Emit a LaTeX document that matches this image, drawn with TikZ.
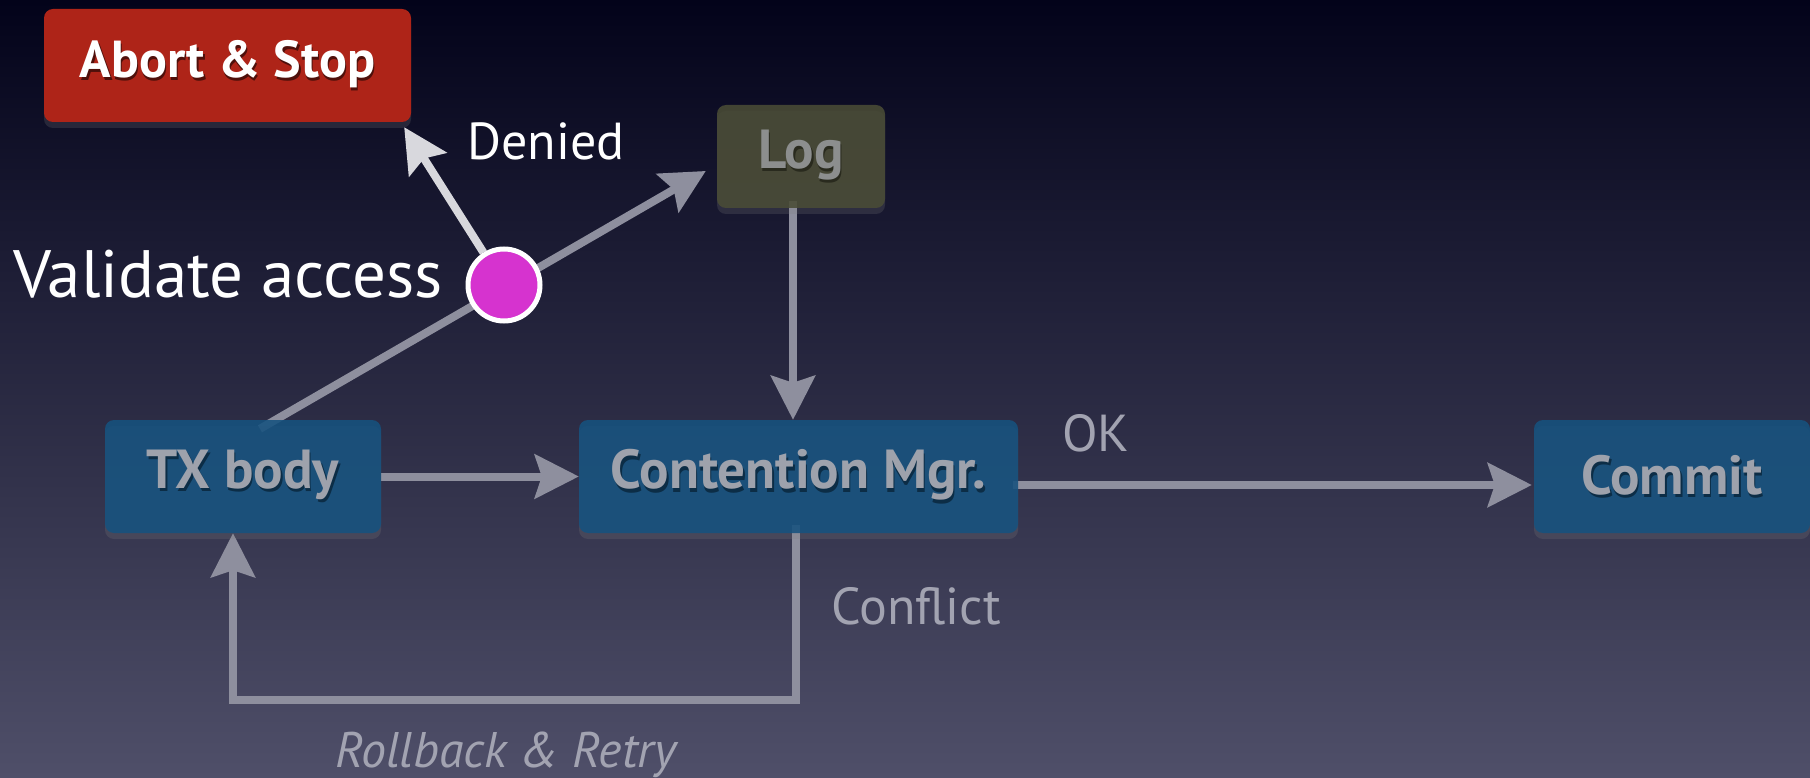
\documentclass[tikz,border=0pt]{standalone}
\usepackage{fontspec}
\setmainfont{PT Sans}
\usetikzlibrary{arrows.meta,shadows,calc}
\pgfdeclarelayer{bg}
\pgfdeclarelayer{edges}
\pgfsetlayers{bg,edges,main}

\definecolor{skytop}{HTML}{03031A}
\definecolor{skymid}{HTML}{24264A}
\definecolor{skybot}{HTML}{4F4F69}
\definecolor{boxblue}{HTML}{16527F}
\definecolor{boxtext}{HTML}{9EA2AC}
\definecolor{abortred}{HTML}{AE2418}
\definecolor{logolive}{HTML}{4A4C36}
\definecolor{logtext}{HTML}{8C8E8E}
\definecolor{flowgray}{HTML}{8E8F9E}
\definecolor{denygray}{HTML}{D8D8DD}
\definecolor{gatepink}{HTML}{D633CF}
\definecolor{labelgray}{HTML}{A2A3B1}
\colorlet{shadowcol}{black}

% text with a soft dark copy offset below it
\newcommand\castshadow[1]{\leavevmode\rlap{\kern1.5pt\raisebox{-3.5pt}{\color{shadowcol}#1}}#1}

\tikzset{
  box/.style={rounded corners=9pt, fill=boxblue, fill opacity=0.88, text opacity=1,
    text=boxtext, font=\bfseries\fontsize{55}{55}\selectfont,
    minimum width=276pt, minimum height=113pt, inner sep=0pt,
    execute at begin node={\colorlet{shadowcol}{boxblue!55!black}},
    drop shadow={shadow xshift=0pt, shadow yshift=-6pt, opacity=0.22}},
  abortbox/.style={box, fill=abortred, fill opacity=1, text=white,
    execute at begin node={\colorlet{shadowcol}{abortred!45!black}},
    font=\bfseries\fontsize{52}{52}\selectfont,
    minimum width=367pt, minimum height=113pt},
  logbox/.style={box, fill=logolive, text=logtext,
    execute at begin node={\colorlet{shadowcol}{logolive!55!black}},
    minimum width=168pt, minimum height=103pt},
  gate/.style={circle, fill=gatepink, draw=white, line width=5pt,
    minimum size=72pt, inner sep=0pt},
  flow/.style={draw=flowgray, line width=8pt, line join=miter,
    -{Stealth[length=44pt, width=44pt, inset=7pt]}},
  deny/.style={flow, draw=denygray},
  biglabel/.style={text=white, font=\fontsize{67}{67}\selectfont, inner sep=0pt},
  edgelabel/.style={text=labelgray, font=\fontsize{52}{52}\selectfont, inner sep=0pt},
}

\begin{document}
\begin{tikzpicture}[x=1pt, y=-1pt]
\begin{pgfonlayer}{bg}
  \begin{scope}[y=1pt]
    \shade[top color=skytop, middle color=skymid, bottom color=skybot]
      (0,-778) rectangle (1810,0);
  \end{scope}
\end{pgfonlayer}
\useasboundingbox (0,0) rectangle (1810,778);

% blocks
\node[box] (tx) at (243,476.5) {\castshadow{TX body}};
\node[box, minimum width=439pt] (cm) at (798.5,476.5) {\castshadow{Contention Mgr.}};
\node[box] (commit) at (1672,476.5) {\castshadow{Commit}};
\node[abortbox] (abort) at (227.5,65.5) {\castshadow{Abort \& Stop}};
\node[logbox] (log) at (801,156.5) {\castshadow{Log}};
\node[gate] (check) at (504,285) {};
\node[biglabel, anchor=base east] (checklabel) at (443,298) {Validate access};

% connectors
\begin{pgfonlayer}{edges}
  \draw[flow] (tx.east) -- (cm.west);
  \draw[flow] ($(cm.east)+(-5,8.5)$) -- ($(commit.west)+(-2,8.5)$);
  \draw[flow] ($(log.south)+(-8,-7)$) -- ($(cm.north)+(-5.5,0)$);
  \draw[flow] ($(cm.south)+(-2.5,-8)$) -- ++(0,175) -| ($(tx.south)+(-10,0)$);
  \draw[flow] ($(tx.north)+(17,9)$) -- ($(log.west)+(-11,14.5)$);
  \draw[deny] (check) -- ($(abort.south east)+(-7,5)$);
\end{pgfonlayer}

% connector labels
\node[edgelabel, text=white, anchor=base west] (deniedlabel) at (467,160) {Denied};
\node[edgelabel, anchor=base west] (oklabel) at (1062,451) {OK};
\node[edgelabel, anchor=base west] (conflictlabel) at (831,624) {Conflict};
\node[edgelabel, anchor=base west, font=\itshape\fontsize{50}{50}\selectfont] (retrylabel) at (335,767) {Rollback \& Retry};
\end{tikzpicture}
\end{document}
